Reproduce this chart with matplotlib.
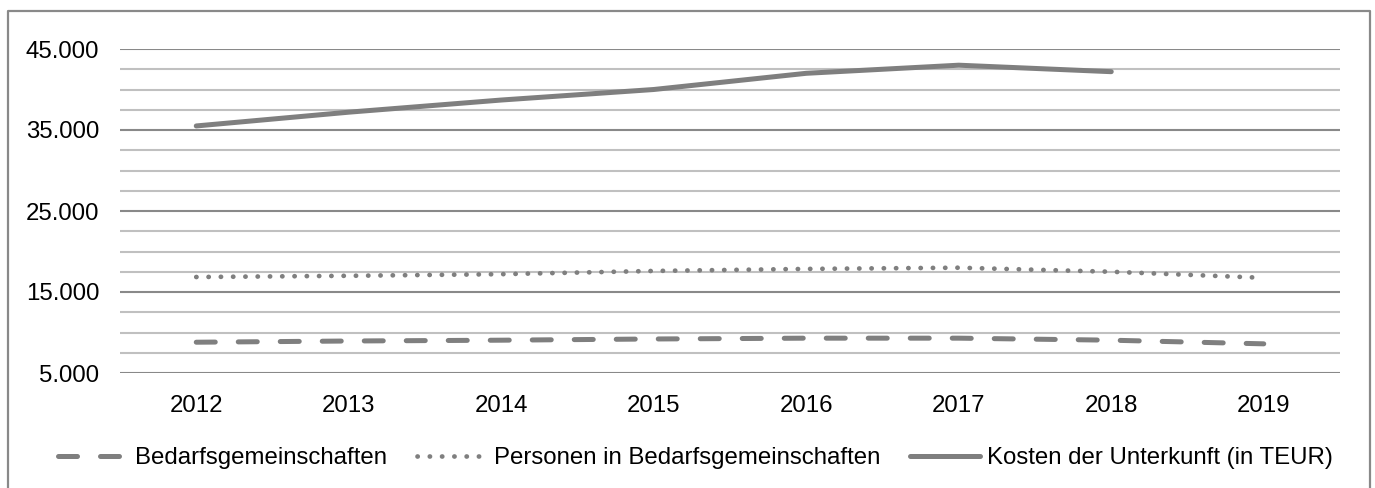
import numpy as np
import matplotlib
matplotlib.use('Agg')
import matplotlib.pyplot as plt
from matplotlib.lines import Line2D
from matplotlib.ticker import FuncFormatter, FixedLocator, MultipleLocator

years = ['2012', '2013', '2014', '2015', '2016', '2017', '2018', '2019']
bedarfsgemeinschaften = [8800, 8950, 9050, 9200, 9300, 9300, 9050, 8600]
personen = [16850, 17000, 17200, 17600, 17850, 18000, 17500, 16750]
kosten = [35500, 37200, 38700, 40000, 42000, 43000, 42200, np.nan]
y_ticks = [5000, 15000, 25000, 35000, 45000]

labels = ['Bedarfsgemeinschaften',
          'Personen in Bedarfsgemeinschaften',
          'Kosten der Unterkunft (in TEUR)']

plt.rcParams['font.family'] = ['Liberation Sans', 'DejaVu Sans']
plt.rcParams['font.size'] = 17.3

line_color = '#7f7f7f'

fig = plt.figure(figsize=(13.75, 4.88), dpi=100)
ax = fig.add_axes([120 / 1375, 115 / 488, 1220 / 1375, 324 / 488])

x = np.arange(len(years))
ax.plot(x, bedarfsgemeinschaften, color=line_color, lw=3.6,
        dashes=(3.8, 4.6), dash_capstyle='round', label=labels[0])
ax.plot(x, personen, color=line_color, lw=3.4,
        dashes=(0.05, 2.55), dash_capstyle='round', label=labels[1])
ax.plot(x, kosten, color=line_color, lw=3.6,
        solid_capstyle='round', label=labels[2])

ax.set_xlim(-0.5, len(years) - 0.5)
ax.set_ylim(5000, 45000)
ax.set_xticks(x)
ax.set_xticklabels(years)
ax.yaxis.set_major_locator(FixedLocator(y_ticks))
ax.yaxis.set_minor_locator(MultipleLocator(2500))
ax.yaxis.set_major_formatter(FuncFormatter(lambda v, p: f'{int(v):,}'.replace(',', '.')))

ax.grid(axis='y', which='major', color='#898989', lw=1.5)
ax.grid(axis='y', which='minor', color='#c0c0c0', lw=1.5)
ax.set_axisbelow(True)
for s in ax.spines.values():
    s.set_visible(False)
ax.tick_params(axis='both', which='both', length=0)
ax.tick_params(axis='y', pad=15)
ax.tick_params(axis='x', pad=16)

fig.legend(loc='center', bbox_to_anchor=(0.506, 1 - 458 / 488), ncol=3,
           frameon=False, handlelength=2.9, handletextpad=0.3,
           columnspacing=1.25)

# outer frame (left, top, right)
bx0, bx1, by1 = 8 / 1375, 1370 / 1375, 1 - 11 / 488
fig.add_artist(Line2D([bx0, bx0, bx1, bx1], [0, by1, by1, 0],
                      transform=fig.transFigure, color='#898989', lw=1.6))

plt.savefig('out.png', dpi=100)
